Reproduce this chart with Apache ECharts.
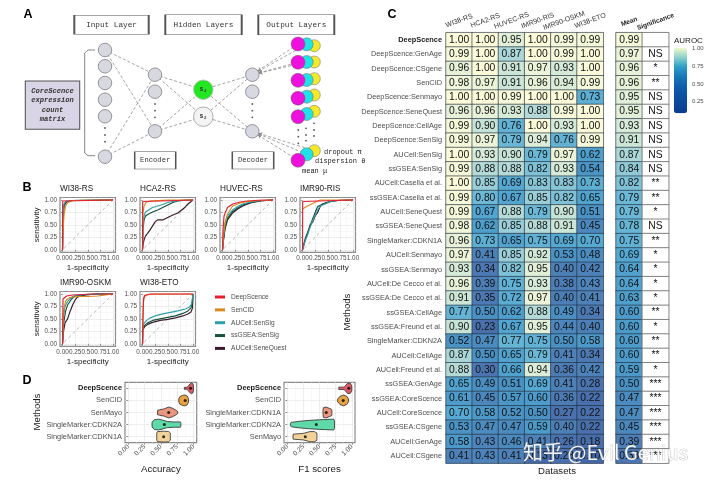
<!DOCTYPE html>
<html><head><meta charset="utf-8">
<style>html,body{margin:0;padding:0;background:#fff}#c{width:720px;height:482px}</style>
<script src="https://cdn.jsdelivr.net/npm/echarts@6/dist/echarts.min.js"></script>
</head><body><div id="c"></div>
<script>
// ---------- Panel C data ----------
const datasets = ['WI38-RS','HCA2-RS','HUVEC-RS','IMR90-RIS','IMR90-OSKM','WI38-ETO'];
const methods = ['DeepScence','DeepScence:GenAge','DeepScence:CSgene','SenCID','DeepScence:Senmayo','DeepScence:SeneQuest','DeepScence:CellAge','DeepScence:SenSig','AUCell:SenSig','ssGSEA:SenSig','AUCell:Casella et al.','ssGSEA:Casella et al.','AUCell:SeneQuest','ssGSEA:SeneQuest','SingleMarker:CDKN1A','AUCell:Senmayo','ssGSEA:Senmayo','AUCell:De Cecco et al.','ssGSEA:De Cecco et al.','ssGSEA:CellAge','ssGSEA:Freund et al.','SingleMarker:CDKN2A','AUCell:CellAge','AUCell:Freund et al.','ssGSEA:GenAge','ssGSEA:CoreScence','AUCell:CoreScence','ssGSEA:CSgene','AUCell:GenAge','AUCell:CSgene'];
const auroc = [
[1.00,1.00,.95,1.00,.99,.99],[.99,1.00,.87,1.00,.99,1.00],[.96,1.00,.91,.97,.93,1.00],[.98,.97,.91,.96,.94,.99],
[1.00,1.00,.99,1.00,1.00,.73],[.96,.96,.93,.88,.99,1.00],[.99,.90,.76,1.00,.93,1.00],[.99,.97,.79,.94,.76,.99],
[1.00,.93,.90,.79,.97,.62],[.99,.88,.88,.82,.93,.54],[1.00,.85,.69,.83,.83,.73],[.99,.80,.67,.85,.82,.65],
[.99,.67,.88,.79,.90,.51],[.98,.62,.85,.88,.91,.45],[.96,.73,.65,.75,.69,.70],[.97,.41,.85,.92,.53,.48],
[.93,.34,.82,.95,.40,.42],[.96,.39,.75,.93,.38,.43],[.91,.35,.72,.97,.40,.41],[.77,.50,.62,.88,.49,.34],
[.90,.23,.67,.95,.44,.40],[.52,.47,.77,.75,.50,.58],[.87,.50,.65,.79,.41,.34],[.88,.30,.66,.94,.36,.42],
[.65,.49,.51,.69,.41,.28],[.61,.45,.57,.60,.36,.22],[.70,.58,.52,.50,.27,.22],[.53,.47,.47,.59,.40,.22],
[.58,.43,.46,.41,.26,.18],[.41,.43,.41,.13,.23,.10]];
const meanAuroc = [.99,.97,.96,.96,.95,.95,.93,.91,.87,.84,.82,.79,.79,.78,.75,.69,.64,.64,.63,.60,.60,.60,.60,.59,.50,.47,.47,.45,.39,.33];
const significance = ['','NS','*','**','NS','NS','NS','NS','NS','NS','**','**','*','NS','**','*','*','*','*','**','*','**','**','*','***','***','***','***','***','***'];
const colorbarTicks = [0.25,0.5,0.75,1];
const cellColors = ['#4268a9','#486eac','#4c74b0','#4d7fb7','#4a90c3','#4c9bca','#55a9d2','#6cb8d6','#c6e3d7','#fbfbd9'];
const barColors = ['#0a3b8c','#0b479a','#0c52a4','#0f60ad','#187ab9','#2da0c9','#8ed2cb','#f0f9cf'];

// ---------- Panel B data: curves in the order of rocMethods ----------
const rocMethods = ['DeepScence','SenCID','AUCell:SenSig','ssGSEA:SenSig','AUCell:SeneQuest'];
const rocColors = ['#e41f30','#d98a1f','#2f9fa8','#17503f','#3a1a2a'];
const rocTitles = ['WI38-RS','HCA2-RS','HUVEC-RS','IMR90-RIS','IMR90-OSKM','WI38-ETO'];
const rocWI38RS = [
[[0,0],[.002,.9],[.005,.98],[.02,1],[1,1]],
[[0,0],[.01,.4],[.03,.7],[.06,.88],[.1,.95],[.2,.985],[.4,.995],[1,1]],
[[0,0],[.01,.7],[.03,.92],[.06,.97],[.15,.99],[1,1]],
[[0,0],[.01,.65],[.03,.9],[.07,.97],[.2,.99],[1,1]],
[[0,0],[.01,.6],[.03,.88],[.08,.96],[.2,.99],[1,1]]];
const rocHCA2RS = [
[[0,0],[.003,.97],[.01,1],[1,1]],
[[0,0],[.01,.75],[.03,.88],[.07,.95],[.15,.98],[.3,.99],[.5,1],[1,1]],
[[0,0],[.01,.5],[.03,.68],[.06,.76],[.12,.8],[.2,.85],[.3,.88],[.4,.91],[.5,.95],[.6,.97],[.8,.995],[1,1]],
[[0,0],[.01,.4],[.03,.6],[.06,.68],[.12,.72],[.2,.76],[.3,.8],[.4,.85],[.5,.9],[.6,.95],[.7,.98],[.85,.995],[1,1]],
[[0,.02],[.01,.1],[.03,.2],[.06,.28],[.1,.33],[.15,.4],[.2,.48],[.25,.56],[.3,.6],[.4,.6],[.5,.65],[.6,.7],[.7,.74],[.8,.82],[.85,.86],[.9,.92],[.95,.96],[1,1]]];
const rocHUVECRS = [
[[0,0],[.01,.4],[.03,.68],[.06,.76],[.1,.85],[.2,.92],[.35,.96],[.5,.98],[.7,.995],[1,1]],
[[0,0],[.02,.3],[.05,.55],[.1,.72],[.2,.88],[.35,.94],[.5,.97],[.7,.99],[1,1]],
[[0,0],[.02,.28],[.05,.52],[.1,.68],[.2,.8],[.3,.87],[.4,.92],[.55,.96],[.75,.99],[1,1]],
[[0,0],[.02,.22],[.05,.45],[.1,.63],[.2,.77],[.3,.84],[.4,.9],[.55,.95],[.75,.985],[1,1]],
[[0,0],[.02,.2],[.05,.42],[.1,.6],[.2,.74],[.3,.82],[.4,.88],[.55,.94],[.75,.98],[1,1]]];
const rocIMR90RIS = [
[[0,0],[.003,.97],[.01,1],[1,1]],
[[0,.82],[.03,.85],[.1,.88],[.2,.93],[.3,.98],[.35,1],[1,1]],
[[0,0],[.03,.1],[.06,.2],[.1,.3],[.15,.45],[.2,.58],[.25,.7],[.3,.8],[.35,.88],[.45,.92],[.55,.97],[.7,.99],[1,1]],
[[0,0],[.03,.13],[.06,.25],[.1,.35],[.15,.48],[.2,.62],[.25,.75],[.3,.87],[.4,.92],[.5,.95],[.6,.98],[.75,.995],[1,1]],
[[0,0],[.03,.12],[.06,.22],[.1,.32],[.15,.5],[.2,.55],[.25,.68],[.3,.75],[.35,.87],[.4,.92],[.5,.96],[.7,.99],[1,1]]];
const rocIMR90OSKM = [
[[0,0],[.005,.5],[.01,.9],[.04,.94],[.08,.96],[.2,.98],[.4,.99],[.6,1],[1,1]],
[[0,0],[.01,.4],[.03,.72],[.06,.85],[.1,.9],[.15,.93],[.3,.95],[.5,.95],[.7,.96],[.85,.98],[1,1]],
[[0,0],[.02,.55],[.05,.75],[.1,.85],[.2,.95],[.3,.98],[.5,.995],[1,1]],
[[0,0],[.02,.4],[.06,.65],[.1,.78],[.18,.9],[.25,.96],[.4,.98],[.6,.995],[1,1]],
[[0,0],[.02,.25],[.05,.42],[.1,.5],[.15,.65],[.2,.78],[.25,.88],[.3,.94],[.45,.98],[.7,1],[1,1]]];
const rocWI38ETO = [
[[0,0],[.01,.6],[.02,.9],[.04,.97],[.07,.99],[.15,1],[1,1]],
[[0,0],[.01,.55],[.02,.85],[.04,.95],[.08,.98],[.2,.995],[1,1]],
[[0,0],[.005,.35],[.03,.41],[.08,.47],[.15,.52],[.25,.56],[.4,.6],[.55,.63],[.7,.66],[.85,.7],[.93,.74],[.97,.8],[1,1]],
[[0,0],[.005,.3],[.04,.37],[.1,.42],[.2,.47],[.35,.5],[.5,.53],[.65,.56],[.8,.61],[.9,.66],[.96,.72],[.99,.82],[1,1]],
[[0,0],[.005,.28],[.04,.34],[.1,.39],[.2,.43],[.35,.47],[.5,.49],[.65,.52],[.8,.56],[.9,.6],[.96,.64],[.99,.72],[1,1]]];
const rocPanels = [rocWI38RS,rocHCA2RS,rocHUVECRS,rocIMR90RIS,rocIMR90OSKM,rocWI38ETO];
const majorTicks = [0,.25,.5,.75,1];
const minorTicks = [.125,.375,.625,.875];

// ---------- Panel D data: violin outlines as [value, half width in bands] ----------
const accMethods = ['DeepScence','SenCID','SenMayo','SingleMarker:CDKN2A','SingleMarker:CDKN1A'];
const accColors = ['#df5a68','#e6a245','#e9977f','#5fd9a8','#f1d29a'];
const accMeans = [.955,.873,.62,.553,.543];
const accOutlines = [
[[.86,.08],[.9,.08],[.92,.18],[.95,.38],[.97,.45],[.99,.38],[1,.2]],
[[.775,.12],[.79,.3],[.83,.42],[.87,.45],[.9,.38],[.92,.2],[.925,.05]],
[[.45,.18],[.48,.22],[.55,.3],[.62,.45],[.68,.35],[.73,.2],[.76,.06]],
[[.365,.2],[.4,.4],[.46,.45],[.52,.38],[.6,.25],[.7,.22],[.8,.22],[.807,.1]],
[[.437,.3],[.45,.42],[.55,.45],[.62,.43],[.645,.3]]];
const f1Methods = ['DeepScence','SenCID','SingleMarker:CDKN1A','SingleMarker:CDKN2A','SenMayo'];
const f1Colors = ['#df5a68','#e6a245','#e9977f','#5fd9a8','#f1d29a'];
const f1Means = [.954,.867,.605,.451,.28];
const f1Outlines = [
[[.8,.1],[.88,.1],[.9,.2],[.94,.45],[.98,.4],[1,.2]],
[[.78,.1],[.82,.35],[.87,.45],[.92,.35],[.95,.12]],
[[.554,.15],[.56,.4],[.6,.45],[.66,.33],[.69,.25],[.692,.1]],
[[.05,.1],[.06,.18],[.2,.28],[.35,.35],[.5,.4],[.6,.42],[.72,.45],[.733,.3]],
[[.09,.2],[.12,.22],[.25,.27],[.35,.42],[.42,.42],[.46,.3],[.46,.1]]];

// ---------- layout ----------
const SANS = '"Liberation Sans",Arial,sans-serif', MONO = '"Liberation Mono","DejaVu Sans Mono",monospace';
const GRAY = '#4d4d4d';
const grid = [], xAxis = [], yAxis = [], series = [], graphic = [];
function txt(x,y,text,o){ o=o||{};
  graphic.push({type:'text',x,y,rotation:(o.rot||0)*Math.PI/180,z:o.z||50,silent:true,
    style:{text,fill:o.color||'#111',font:(o.weight||'')+' '+(o.size||8)+'px '+(o.family||SANS),align:o.align||'center',verticalAlign:'middle',
      stroke:o.stroke,lineWidth:o.lineWidth||0,opacity:o.opacity==null?1:o.opacity}});
}
const tf = v => v.toFixed(2);

// Adds a ggplot-style panel (major axes carrying ticks and labels, plus minor gridline axes)
function panel(box,opt){
  const g = grid.length; grid.push(Object.assign({show:true,borderColor:'#8a8a8a',borderWidth:1.2,backgroundColor:'#fff'},box));
  const major = {type:'value',gridIndex:g,min:-.05,max:1.05,position:'bottom',
    axisLine:{show:false},axisTick:{show:true,customValues:majorTicks,length:2,lineStyle:{color:'#555',width:.6}},
    splitLine:{show:true,lineStyle:{color:'#e6e6e6',width:.7}},
    axisLabel:{show:true,customValues:majorTicks,formatter:tf,fontSize:6.4,fontFamily:SANS,color:GRAY,margin:3,hideOverlap:false},
    nameLocation:'middle',nameTextStyle:{fontFamily:SANS,color:'#1a1a1a'}};
  const minor = {type:'value',gridIndex:g,min:-.05,max:1.05,position:'bottom',
    axisLine:{show:false},axisTick:{show:false,customValues:minorTicks},axisLabel:{show:false},
    splitLine:{show:true,lineStyle:{color:'#f3f3f3',width:.5}}};
  const xi = xAxis.length;
  xAxis.push(Object.assign({},minor),Object.assign({},major,opt.x||{}));
  return {g,xi:xi+1};
}

// ---------- Panel B ----------
const rocBoxes = [[60,197.5],[140,197.5],[220,197.5],[300,197.5],[60,291.5],[140,291.5]];
rocPanels.forEach((curves,p)=>{
  const [l,t] = rocBoxes[p];
  const box = {left:l,top:t,width:55.5,height:54.8};
  const {xi} = panel(box,{x:{name:'1-specificity',nameGap:11,nameTextStyle:{fontSize:8,fontFamily:SANS,color:'#1a1a1a'}}});
  const g = grid.length-1, yi = yAxis.length;
  const yMajor = JSON.parse(JSON.stringify(xAxis[xi]));
  yMajor.position='left'; yMajor.axisLabel.formatter=tf; yMajor.axisLabel.margin=3;
  if(l===60){ yMajor.name='sensitivity'; yMajor.nameGap=19; yMajor.nameTextStyle={fontSize:8,fontFamily:SANS,color:'#1a1a1a'}; }
  else { delete yMajor.name; }
  const yMinor = JSON.parse(JSON.stringify(xAxis[xi-1])); yMinor.position='left'; delete yMinor.name;
  yAxis.push(yMinor,yMajor);
  series.push({type:'line',xAxisIndex:xi,yAxisIndex:yi+1,data:[[-.05,-.05],[1.05,1.05]],showSymbol:false,silent:true,z:3,
    lineStyle:{color:'#9a9a9a',width:.7,type:[3,3]}});
  curves.forEach((c,k)=>{
    series.push({type:'line',name:rocMethods[k],xAxisIndex:xi,yAxisIndex:yi+1,data:c,showSymbol:false,silent:true,
      z:k===0?6:5-k*0.1,itemStyle:{color:rocColors[k]},lineStyle:{color:rocColors[k],width:1.15}});
  });
  txt(l,t-8.5,rocTitles[p],{align:'left',size:8.2,color:'#1a1a1a'});
});

// ---------- Panel D ----------
function violinPanel(box,name,cats,colors,outlines,means){
  const {g,xi} = panel(box,{x:{name,nameGap:22,nameTextStyle:{fontSize:9.7,fontFamily:SANS,color:'#1a1a1a'},
    axisLabel:{show:true,customValues:majorTicks,formatter:tf,rotate:45,fontSize:6.6,fontFamily:SANS,color:GRAY,margin:3,hideOverlap:false}}});
  const yi = yAxis.length;
  yAxis.push({type:'category',gridIndex:g,data:cats,inverse:true,boundaryGap:true,
    axisLine:{show:false},axisTick:{show:true,alignWithLabel:true,length:2,lineStyle:{color:'#555',width:.6}},
    splitLine:{show:true,alignWithLabel:true,lineStyle:{color:'#e6e6e6',width:.7}},
    axisLabel:{interval:0,fontSize:7.4,fontFamily:SANS,color:GRAY,margin:3,
      formatter:(v,i)=>i===0?'{b|'+v+'}':v,rich:{b:{fontWeight:'bold',color:'#1a1a1a',fontSize:7.4,fontFamily:SANS}}}});
  series.push({type:'custom',xAxisIndex:xi,yAxisIndex:yi,silent:true,z:5,clip:false,
    data:cats.map((c,i)=>[means[i],i]),encode:{x:0,y:1},
    renderItem(params,api){
      const i=api.value(1), band=api.size([0,1])[1], o=outlines[i];
      const up=o.map(p=>{const c=api.coord([p[0],i]);return [c[0],c[1]-p[1]*band];});
      const dn=o.slice().reverse().map(p=>{const c=api.coord([p[0],i]);return [c[0],c[1]+p[1]*band];});
      return {type:'polygon',shape:{points:up.concat(dn)},style:{fill:colors[i],stroke:'#2b2b2b',lineWidth:.8}};
    }});
  series.push({type:'scatter',xAxisIndex:xi,yAxisIndex:yi,silent:true,z:6,symbolSize:3,itemStyle:{color:'#000'},
    data:cats.map((c,i)=>[means[i],i])});
}
violinPanel({left:125,top:382.3,width:71.7,height:60.4},'Accuracy',accMethods,accColors,accOutlines,accMeans);
violinPanel({left:284,top:382.3,width:71,height:60.4},'F1 scores',f1Methods,f1Colors,f1Outlines,f1Means);

// ---------- Panel C ----------
const gC = grid.length; grid.push({left:446,top:32.7,width:157.3,height:430.5});
const xC = xAxis.length, yC = yAxis.length;
xAxis.push({type:'category',gridIndex:gC,data:datasets,position:'top',axisLine:{show:false},axisTick:{show:false},
  axisLabel:{interval:0,rotate:-20,align:'center',verticalAlign:'middle',margin:12,fontSize:7,fontFamily:SANS,color:'#333'}});
yAxis.push({type:'category',gridIndex:gC,data:methods,inverse:true,axisLine:{show:false},axisTick:{show:false},
  axisLabel:{interval:0,fontSize:7.35,fontFamily:SANS,color:GRAY,margin:4,
    formatter:(v,i)=>i===0?'{b|'+v+'}':v,rich:{b:{fontWeight:'bold',color:'#1a1a1a',fontSize:7.35,fontFamily:SANS}}}});
const heatIdx = series.length;
const cellBorder = {borderColor:'rgba(35,45,60,.8)',borderWidth:.8};
series.push({type:'heatmap',xAxisIndex:xC,yAxisIndex:yC,silent:true,z:4,
  data:auroc.flatMap((r,i)=>r.map((v,j)=>[j,i,v])),itemStyle:cellBorder,
  label:{show:true,formatter:p=>p.value[2].toFixed(2),fontSize:10.3,fontFamily:SANS,color:'#111'}});
const gM = grid.length; grid.push({left:616,top:32.7,width:52.7,height:430.5});
const xM = xAxis.length, yM = yAxis.length;
xAxis.push({type:'category',gridIndex:gM,data:['Mean','Significance'],position:'top',axisLine:{show:false},axisTick:{show:false},
  axisLabel:{interval:0,rotate:-20,align:'center',verticalAlign:'middle',margin:11,fontSize:6.6,fontWeight:'bold',fontFamily:SANS,color:'#1a1a1a'}});
yAxis.push({type:'category',gridIndex:gM,data:methods,inverse:true,axisLine:{show:false},axisTick:{show:false},axisLabel:{show:false}});
const meanIdx = series.length;
series.push({type:'heatmap',xAxisIndex:xM,yAxisIndex:yM,silent:true,z:4,
  data:meanAuroc.map((v,i)=>[0,i,v]),itemStyle:cellBorder,
  label:{show:true,formatter:p=>p.value[2].toFixed(2),fontSize:10.3,fontFamily:SANS,color:'#111'}});
series.push({type:'heatmap',xAxisIndex:xM,yAxisIndex:yM,silent:true,z:4,
  data:significance.map((s,i)=>[1,i,0]),itemStyle:{color:'#fff',borderColor:'#777',borderWidth:.9},
  label:{show:true,formatter:p=>significance[p.dataIndex],fontSize:10.3,fontFamily:SANS,color:'#111'}});

// colourbar: its labels come from a real value axis aligned to the visualMap bar
const gB = grid.length; grid.push({left:674,top:48,width:13,height:65.3});
const xB = xAxis.length, yB = yAxis.length;
xAxis.push({type:'value',gridIndex:gB,show:false,min:0,max:1});
yAxis.push({type:'value',gridIndex:gB,min:.085,max:1.01,position:'right',splitLine:{show:false},axisLine:{show:false},
  axisTick:{show:false,customValues:colorbarTicks},
  axisLabel:{customValues:colorbarTicks,formatter:tf,fontSize:6,fontFamily:SANS,color:GRAY,margin:5,hideOverlap:false}});
const barIdx = series.length;
series.push({type:'scatter',xAxisIndex:xB,yAxisIndex:yB,data:[],silent:true});

// ---------- Panel A: diagram nodes on a hidden page-sized cartesian system ----------
const gA = grid.length; grid.push({left:0,top:0,width:720,height:482});
const xA = xAxis.length, yA = yAxis.length;
xAxis.push({type:'value',gridIndex:gA,show:false,min:0,max:720});
yAxis.push({type:'value',gridIndex:gA,show:false,min:0,max:482,inverse:true});
const nodes = [], links = [];
function node(x,y,size,fill,o){ o=o||{};
  nodes.push({name:'n'+nodes.length,value:[x,y],symbol:o.symbol||'circle',symbolSize:size,
    itemStyle:{color:fill,borderColor:o.border||'#7c7c84',borderWidth:o.bw==null?.8:o.bw},
    label:o.text?{show:true,position:'inside',formatter:o.text,fontFamily:MONO,fontSize:o.fs||7.7,lineHeight:o.lh||10,
      fontWeight:o.fw||'normal',fontStyle:o.fst||'normal',color:'#333'}:{show:false}});
  return nodes.length-1;
}
function box(x0,y0,x1,y1,text,o){ return node((x0+x1)/2,(y0+y1)/2,[x1-x0,y1-y0],(o&&o.fill)||'#fff',
  Object.assign({symbol:'rect',border:'#555',bw:1,text},o||{})); }
const NODE='#d8d8e0';
const link=(a,b,o)=>links.push(Object.assign({source:a,target:b},o||{}));
const dot=(x,y)=>node(x,y,1.8,'#555',{bw:0});

box(74.3,15.3,148.7,34.3,'Input Layer'); box(165.3,14.7,241.7,34.7,'Hidden Layers'); box(258.3,14.7,334.3,34.7,'Output Layers');
box(134.7,151.7,175.7,169,'Encoder',{fs:7.2}); box(232.3,151.7,273.7,169,'Decoder',{fs:7.2});
box(25.3,81,79.7,129.3,'CoreScence\nexpression\ncount\nmatrix',{fill:'#d9d5e6',fw:'bold',fst:'italic',fs:7.1,lh:9.6});

const inp=[50,66.3,83,99.7,116.3,156.7].map(y=>node(105,y,13.5,NODE));
[128,135,141.7].forEach(y=>dot(105,y));
const enc=[74.7,91.7,131.3].map(y=>node(155,y,13.5,NODE));
const dec=[74.7,91.7,131.3].map(y=>node(252.3,y,13.5,NODE));
[104,110.7,117.3].forEach(y=>{dot(155,y);dot(252.3,y);});
const s1=node(203.3,89.7,19.5,'#22e622',{text:'s₁',fs:6.5,fw:'bold',border:'#bbb'});
const s2=node(203.3,116.7,19.5,'#f4f4f4',{text:'s₂',fs:6.5,fw:'bold',border:'#999'});
const yel=[45.7,62,78.7,95,111.3,150.7].map(y=>node(314.3,y,12,'#f5e92a',{border:'#666',bw:.5}));
const cya=[44.3,62,80,96.7,114,154.3].map(y=>node(306.7,y,13,'#1fe3e8',{border:'#666',bw:.5}));
const mag=[44,62.3,80.3,98.3,116.7,160.3].map(y=>node(298,y,14,'#ee10dc',{border:'#666',bw:.5}));
[[298.3,[130,136.7,143.3]],[306,[128.3,135,140.7]],[314,[123.3,130,136]]].forEach(([x,ys])=>ys.forEach(y=>dot(x,y)));
[inp[0],inp[5]].forEach(a=>[enc[0],enc[2]].forEach(b=>link(a,b)));
[enc[0],enc[2]].forEach(a=>[s1,s2].forEach(b=>link(a,b)));
[s1,s2].forEach(a=>[dec[0],dec[2]].forEach(b=>link(a,b)));
const arrow={symbol:['arrow','none'],symbolSize:[3.5,0]};
[mag[0],cya[0],mag[1],cya[1]].forEach(b=>link(dec[0],b,arrow));
[mag[5],cya[5],yel[5]].forEach(b=>link(dec[2],b,arrow));
series.push({type:'graph',coordinateSystem:'cartesian2d',xAxisIndex:xA,yAxisIndex:yA,silent:true,z:8,roam:false,
  data:nodes,links,edgeSymbol:['none','none'],lineStyle:{color:'#8d8d8d',width:.8,type:[3,2],opacity:1,curveness:0}});
series.push({type:'line',xAxisIndex:xA,yAxisIndex:yA,showSymbol:false,silent:true,z:8,
  data:[[95,50],[88,50],[84.7,53],[84.7,153],[88,155.7],[95,155.7]],lineStyle:{color:'#777',width:.9}});

txt(324,152,'dropout π',{align:'left',family:MONO,size:7,color:'#222'});
txt(315,161.3,'dispersion θ',{align:'left',family:MONO,size:7,color:'#222'});
txt(302,171,'mean μ',{align:'left',family:MONO,size:7,color:'#222'});

// ---------- free-standing labels ----------
[['A',28,14.5],['B',27,187.7],['C',392,14.7],['D',27,381]].forEach(([t,x,y])=>txt(x,y,t,{weight:'bold',size:12.5,color:'#000'}));
txt(347,312,'Methods',{rot:90,size:9.6,color:'#1a1a1a'});
txt(37,412,'Methods',{rot:90,size:9.6,color:'#1a1a1a'});
txt(557,471.7,'Datasets',{size:9.6,color:'#1a1a1a'});
txt(674,41,'AUROC',{align:'left',size:8,color:'#1a1a1a'});
txt(523,452.5,'知乎 @Evil Genius',{align:'left',family:'"Noto Sans CJK SC"',size:20,color:'rgba(255,255,255,.92)',stroke:'rgba(110,110,110,.55)',lineWidth:.7,z:60});

const option = {animation:false,backgroundColor:'#fff',textStyle:{fontFamily:SANS},
  grid,xAxis,yAxis,series,graphic,
  legend:{data:rocMethods,orient:'vertical',left:215,top:293.5,padding:0,itemWidth:10,itemHeight:3,itemGap:5.85,icon:'rect',selectedMode:false,
    textStyle:{fontSize:6.6,fontFamily:SANS,color:GRAY,padding:[0,0,0,1]}},
  visualMap:[
    {type:'continuous',show:false,seriesIndex:[heatIdx,meanIdx],dimension:2,min:.1,max:1,inRange:{color:cellColors}},
    {type:'continuous',show:true,seriesIndex:[barIdx],min:.085,max:1.01,inRange:{color:barColors},left:674,top:48,padding:0,itemWidth:13,itemHeight:65.3,calculable:false,text:null,showLabel:false,hoverLink:false}
  ]};
echarts.init(document.getElementById('c'),null,{renderer:'canvas'}).setOption(option);
</script></body></html>
